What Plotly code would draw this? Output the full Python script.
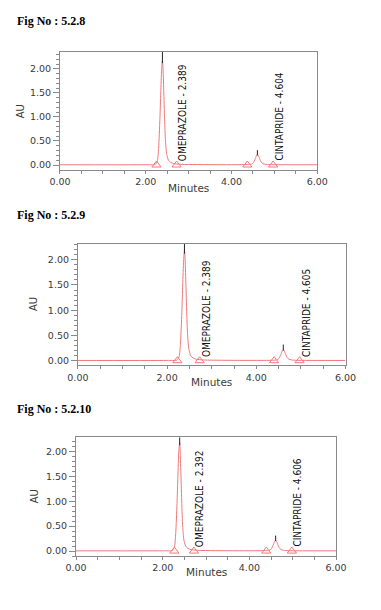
import plotly.graph_objects as go

# ---------------- data ----------------
fig_titles = ["Fig No : 5.2.8", "Fig No : 5.2.9", "Fig No : 5.2.10"]

# chromatogram trace points (minutes, AU) per panel
time_1 = [0.00, 2.00, 2.22, 2.27, 2.30, 2.33, 2.35, 2.37, 2.389, 2.40, 2.42, 2.44, 2.46, 2.49, 2.53, 2.58, 2.65, 2.80,
          4.40, 4.47, 4.51, 4.55, 4.58, 4.604, 4.63, 4.66, 4.69, 4.73, 4.79, 4.90, 6.00]
au_1 = [0.005, 0.006, 0.012, 0.08, 0.35, 0.95, 1.50, 1.98, 2.18, 2.08, 1.55, 0.95, 0.50, 0.22, 0.10, 0.055, 0.03, 0.015,
        0.010, 0.02, 0.05, 0.12, 0.19, 0.22, 0.19, 0.12, 0.065, 0.03, 0.015, 0.008, 0.005]
time_2 = [0.00, 2.00, 2.22, 2.27, 2.30, 2.33, 2.35, 2.37, 2.389, 2.40, 2.42, 2.44, 2.46, 2.49, 2.53, 2.58, 2.65, 2.80,
          4.40, 4.47, 4.51, 4.55, 4.58, 4.605, 4.63, 4.66, 4.69, 4.73, 4.79, 4.90, 6.00]
au_2 = [0.005, 0.006, 0.012, 0.08, 0.35, 0.95, 1.50, 1.98, 2.18, 2.08, 1.55, 0.95, 0.50, 0.22, 0.10, 0.055, 0.03, 0.015,
        0.010, 0.02, 0.05, 0.12, 0.19, 0.22, 0.19, 0.12, 0.065, 0.03, 0.015, 0.008, 0.005]
time_3 = [0.00, 2.00, 2.22, 2.27, 2.30, 2.33, 2.35, 2.37, 2.392, 2.40, 2.42, 2.44, 2.46, 2.49, 2.53, 2.58, 2.65, 2.80,
          4.40, 4.47, 4.51, 4.55, 4.58, 4.606, 4.63, 4.66, 4.69, 4.73, 4.79, 4.90, 6.00]
au_3 = [0.005, 0.006, 0.012, 0.08, 0.35, 0.95, 1.50, 1.98, 2.18, 2.08, 1.55, 0.95, 0.50, 0.22, 0.10, 0.055, 0.03, 0.015,
        0.010, 0.02, 0.05, 0.12, 0.19, 0.22, 0.19, 0.12, 0.065, 0.03, 0.015, 0.008, 0.005]

# peak names, retention times and apex-marker heights
peak_names = ["OMEPRAZOLE", "CINTAPRIDE"]
rt_1 = [2.389, 4.604]
rt_2 = [2.389, 4.605]
rt_3 = [2.392, 4.606]
apex_lo = [2.12, 0.20]
apex_hi_1 = [2.35, 0.31]
apex_hi_2 = [2.32, 0.32]
apex_hi_3 = [2.28, 0.31]

# integration start/end markers (minutes)
marks_1 = [2.25, 2.72, 4.37, 4.97]
marks_2 = [2.23, 2.73, 4.40, 4.97]
marks_3 = [2.27, 2.72, 4.39, 4.98]

# label positions (minutes)
label_x_1 = [2.86, 5.12]
label_x_2 = [2.87, 5.12]
label_x_3 = [2.85, 5.11]

x_ticks = [0, 2, 4, 6]
y_ticks = [0.0, 0.5, 1.0, 1.5, 2.0]

# ---------------- layout geometry (pixels) ----------------
W, H = 381, 610
panels = [
    dict(box=(52, 325, 52, 170), yr=(-0.098, 2.353), t=time_1, a=au_1, rt=rt_1, hi=apex_hi_1, mk=marks_1,
         lx=label_x_1, title_y=21, au_x=10, min_xy=(188, 188)),
    dict(box=(71, 355, 244, 366), yr=(-0.093, 2.32), t=time_2, a=au_2, rt=rt_2, hi=apex_hi_2, mk=marks_2,
         lx=label_x_2, title_y=215, au_x=24, min_xy=(213, 383)),
    dict(box=(69, 345, 438, 557), yr=(-0.10, 2.28), t=time_3, a=au_3, rt=rt_3, hi=apex_hi_3, mk=marks_3,
         lx=label_x_3, title_y=410, au_x=25, min_xy=(207, 573)),
]

RED = "#f07878"
AXC = "#8a8a8a"
TXT = "#3a3a3a"
TICKFONT = dict(family="DejaVu Sans", size=9.5, color=TXT)
NARROW = "Liberation Sans Narrow, DejaVu Sans Condensed, Arial Narrow, sans-serif"

fig = go.Figure()
annotations = []
layout = dict(width=W, height=H, margin=dict(l=0, r=0, t=0, b=0),
              paper_bgcolor="white", plot_bgcolor="white", showlegend=False)

for i, p in enumerate(panels, start=1):
    xa = "x" if i == 1 else f"x{i}"
    ya = "y" if i == 1 else f"y{i}"
    L, R, T, B = p["box"]
    # chromatogram
    fig.add_trace(go.Scatter(x=p["t"], y=p["a"], mode="lines", xaxis=xa, yaxis=ya,
                             line=dict(color=RED, width=1, shape="spline", smoothing=0.6),
                             hoverinfo="skip"))
    # apex markers
    for rt, lo, hi in zip(p["rt"], apex_lo, p["hi"]):
        fig.add_trace(go.Scatter(x=[rt, rt], y=[lo, hi], mode="lines", xaxis=xa, yaxis=ya,
                                 line=dict(color="#222222", width=1), hoverinfo="skip"))
    # integration markers
    fig.add_trace(go.Scatter(x=p["mk"], y=[0.0] * len(p["mk"]), mode="markers", xaxis=xa, yaxis=ya,
                             marker=dict(symbol="triangle-up-open", size=8, color=RED,
                                         line=dict(width=1, color=RED)), hoverinfo="skip"))
    # peak labels
    for name, rt, lx in zip(peak_names, p["rt"], p["lx"]):
        annotations.append(dict(x=lx, y=0.04, xref=xa, yref=ya, text=f"{name} - {rt:.3f}",
                                textangle=-90, showarrow=False, xanchor="center", yanchor="bottom",
                                font=dict(family=NARROW, size=10, color="#111111")))
    xdom = [L / W, R / W]
    ydom = [1 - B / H, 1 - T / H]
    xkey = "xaxis" if i == 1 else f"xaxis{i}"
    ykey = "yaxis" if i == 1 else f"yaxis{i}"
    layout[xkey] = dict(domain=xdom, range=[0, 6], anchor=ya, tickvals=x_ticks, tickformat=".2f",
                        ticks="outside", ticklen=3, tickcolor=AXC, tickfont=TICKFONT,
                        showline=True, linecolor=AXC, linewidth=1, mirror=True,
                        showgrid=False, zeroline=False,
                        minor=dict(dtick=0.5, ticks="outside", ticklen=3, tickcolor=AXC, showgrid=False))
    layout[ykey] = dict(domain=ydom, range=list(p["yr"]), anchor=xa, tickvals=y_ticks, tickformat=".2f",
                        ticks="outside", ticklen=6, tickcolor=AXC, tickfont=TICKFONT,
                        showline=True, linecolor=AXC, linewidth=1, mirror=True,
                        showgrid=False, zeroline=False,
                        minor=dict(dtick=0.1, ticks="outside", ticklen=3, tickcolor=AXC, showgrid=False))
    # figure caption
    annotations.append(dict(x=4 / W, y=1 - p["title_y"] / H, xref="paper", yref="paper",
                            text=f"<b>{fig_titles[i - 1]}</b>", showarrow=False,
                            xanchor="left", yanchor="middle",
                            font=dict(family="Liberation Serif, Times New Roman, serif", size=12, color="black")))
    # axis titles
    annotations.append(dict(x=p["au_x"] / W, y=1 - ((T + B) / 2) / H, xref="paper", yref="paper",
                            text="AU", textangle=-90, showarrow=False, xanchor="center", yanchor="middle",
                            font=dict(family=NARROW, size=11, color=TXT)))
    mx, my = p["min_xy"]
    annotations.append(dict(x=mx / W, y=1 - my / H, xref="paper", yref="paper",
                            text="Minutes", showarrow=False, xanchor="center", yanchor="middle",
                            font=dict(family="DejaVu Sans", size=10.5, color=TXT)))

layout["annotations"] = annotations
fig.update_layout(**layout)
fig.write_html("out.html")
